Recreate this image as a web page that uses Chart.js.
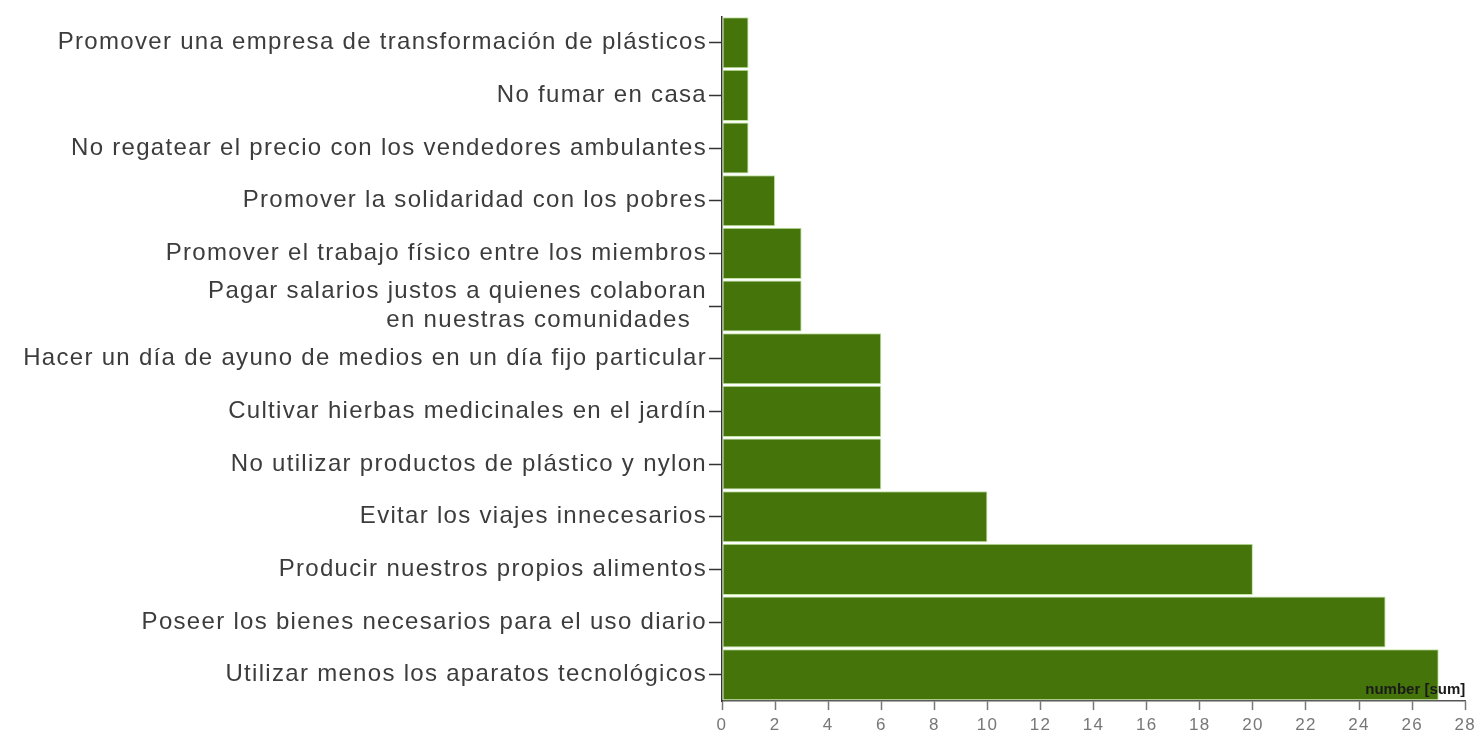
<!DOCTYPE html>
<html>
<head>
<meta charset="utf-8">
<script src="https://cdn.jsdelivr.net/npm/chart.js@4.4.0/dist/chart.umd.min.js"></script>
<style>
  html, body { margin: 0; padding: 0; background: #fff; }
  #wrap { width: 1481px; height: 736px; position: relative; }
</style>
</head>
<body>
<div id="wrap"><canvas id="chart"></canvas></div>
<script>
const CATEGORIES = [
    "Promover una empresa de transformación de plásticos",
    "No fumar en casa",
    "No regatear el precio con los vendedores ambulantes",
    "Promover la solidaridad con los pobres",
    "Promover el trabajo físico entre los miembros",
    ["Pagar salarios justos a quienes colaboran", "en nuestras comunidades  "],
    "Hacer un día de ayuno de medios en un día fijo particular",
    "Cultivar hierbas medicinales en el jardín",
    "No utilizar productos de plástico y nylon",
    "Evitar los viajes innecesarios",
    "Producir nuestros propios alimentos",
    "Poseer los bienes necesarios para el uso diario",
    "Utilizar menos los aparatos tecnológicos",
];

const VALUES = [1, 1, 1, 2, 3, 3, 6, 6, 6, 10, 20, 25, 27];

const X_MIN = 0;
const X_MAX = 28;
const X_STEP = 2;

const BAR_COLOR = "#44740a";
const BAR_EDGE = "#bfe49c";
const FONT = "'Liberation Sans', Arial, Helvetica, sans-serif";

// wide tracking like the reference's light font
const trackingPlugin = {
    id: "tracking",
    beforeLayout(chart) { chart.ctx.letterSpacing = "1.3px"; },
    beforeDraw(chart) { chart.ctx.letterSpacing = "1.3px"; },
};

// axis caption drawn inside the plot, bottom right
const captionPlugin = {
    id: "caption",
    afterDraw(chart) {
        const {ctx, chartArea} = chart;
        ctx.save();
        ctx.letterSpacing = "0px";
        ctx.font = "bold 15px " + FONT;
        ctx.fillStyle = "#1a1a1a";
        ctx.textAlign = "right";
        ctx.textBaseline = "alphabetic";
        ctx.fillText("number [sum]", chartArea.right, chartArea.bottom - 7);
        ctx.restore();
    },
};

new Chart(document.getElementById("chart"), {
    type: "bar",
    data: {
        labels: CATEGORIES,
        datasets: [{
            data: VALUES,
            backgroundColor: BAR_COLOR,
            borderColor: BAR_EDGE,
            borderWidth: 1,
            borderSkipped: false,
            barPercentage: 0.97,
            categoryPercentage: 1,
        }],
    },
    options: {
        indexAxis: "y",
        responsive: true,
        maintainAspectRatio: false,
        animation: false,
        layout: {
            padding: {top: 15, right: 12, bottom: 0, left: 0},
        },
        plugins: {
            legend: {display: false},
            tooltip: {enabled: false},
        },
        scales: {
            x: {
                type: "linear",
                min: X_MIN,
                max: X_MAX,
                ticks: {
                    stepSize: X_STEP,
                    color: "#777",
                    padding: 5,
                    maxRotation: 0,
                    font: {size: 17, family: FONT},
                },
                grid: {
                    display: true,
                    drawOnChartArea: false,
                    drawTicks: true,
                    tickLength: 9,
                    tickColor: "#777",
                    tickWidth: 1.5,
                },
                border: {display: true, color: "#555", width: 1.5},
                afterFit(scale) { scale.height = 35; },
            },
            y: {
                type: "category",
                offset: true,
                ticks: {
                    color: "#3c3c3c",
                    padding: 2,
                    autoSkip: false,
                    font: {size: 24, family: FONT, lineHeight: 1.2},
                },
                grid: {
                    display: true,
                    offset: false,
                    drawOnChartArea: false,
                    drawTicks: true,
                    tickLength: 13,
                    tickColor: "#333",
                    tickWidth: 1.5,
                },
                border: {display: true, color: "#333", width: 1.5},
                afterFit(scale) { scale.width = 722; },
            },
        },
    },
    plugins: [trackingPlugin, captionPlugin],
});
</script>
</body>
</html>
